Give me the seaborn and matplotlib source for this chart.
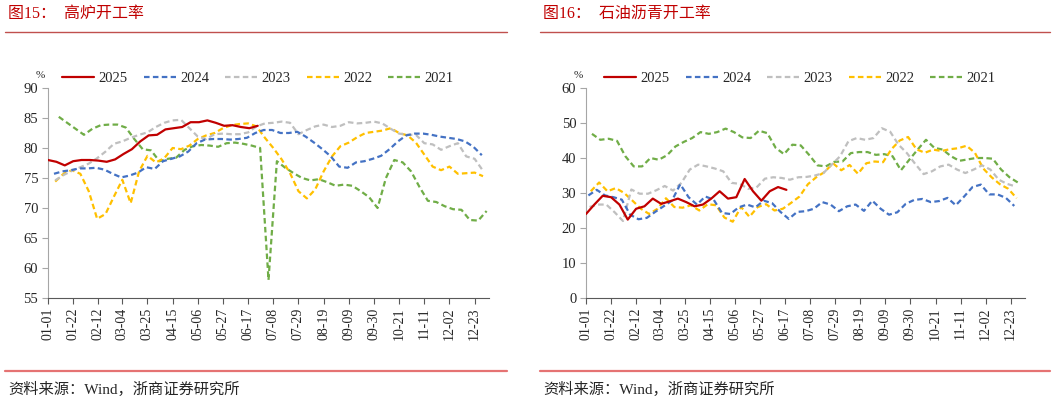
import pandas as pd
import seaborn as sns
import matplotlib.pyplot as plt
from matplotlib.lines import Line2D

years = ['2025', '2024', '2023', '2022', '2021']
colors = ['#C00000', '#4472C4', '#BFBFBF', '#FFC000', '#70AD47']
tick_labels = ['01-01', '01-22', '02-12', '03-04', '03-25', '04-15', '05-06', '05-27', '06-17',
               '07-08', '07-29', '08-19', '09-09', '09-30', '10-21', '11-11', '12-02', '12-23']

# 高炉开工率 (%), weekly, first week's day offset per year
bf_first_day = [0, 5, 6, 6, 9]
bf_2025 = [78.0, 77.7, 77.1, 77.8, 78.0, 78.0, 77.9, 77.7, 78.1, 79.0, 79.8, 81.1, 82.1, 82.2, 83.1,
           83.3, 83.5, 84.3, 84.3, 84.6, 84.2, 83.7, 83.8, 83.5, 83.3, 83.7]
bf_2024 = [75.7, 76.1, 76.3, 76.6, 76.6, 76.7, 76.4, 75.7, 75.1, 75.4, 75.9, 76.8, 76.5, 77.8, 78.2,
           78.6, 79.4, 80.8, 81.4, 81.5, 81.5, 81.4, 81.5, 81.7, 82.5, 83.0, 83.0, 82.5, 82.5, 82.7,
           81.9, 80.9, 79.8, 78.6, 76.9, 76.7, 77.6, 77.8, 78.2, 78.7, 79.8, 81.1, 82.1, 82.4, 82.4,
           82.2, 81.9, 81.7, 81.5, 81.1, 80.2, 78.8]
bf_2023 = [74.6, 75.5, 76.2, 76.8, 77.4, 78.3, 79.4, 80.7, 81.1, 81.7, 82.2, 82.6, 83.5, 84.2, 84.6,
           84.7, 83.3, 81.9, 81.5, 82.3, 82.4, 82.3, 82.3, 82.6, 83.6, 84.1, 84.2, 84.4, 84.2, 82.3,
           83.0, 83.6, 83.9, 83.5, 83.7, 84.3, 84.1, 84.2, 84.4, 84.1, 83.2, 82.4, 82.2, 82.2, 80.8,
           80.6, 79.7, 80.3, 80.8, 78.6, 78.2, 76.2]
bf_2022 = [74.4, 75.7, 76.3, 75.7, 72.8, 68.2, 69.0, 71.9, 74.7, 70.8, 76.1, 78.7, 77.6, 78.3, 80.0,
           79.8, 80.4, 81.5, 82.1, 82.5, 83.3, 83.8, 84.0, 84.1, 83.6, 81.7, 80.0, 78.1, 75.8, 72.8,
           71.6, 73.1, 76.1, 78.6, 80.3, 80.9, 81.8, 82.5, 82.7, 82.9, 83.3, 82.5, 82.1, 80.9, 78.9,
           76.9, 76.3, 76.9, 75.7, 75.8, 75.9, 75.3]
bf_2021 = [85.2, 84.2, 83.2, 82.2, 83.2, 83.8, 83.9, 83.9, 83.4, 81.5, 79.8, 79.6, 77.8, 78.2, 78.4,
           79.7, 80.3, 80.5, 80.4, 80.2, 80.8, 80.9, 80.7, 80.4, 80.0, 58.0, 77.8, 76.7, 75.8, 75.0,
           74.6, 74.8, 74.3, 73.7, 73.9, 73.7, 72.8, 71.8, 70.0, 75.0, 78.0, 77.6, 76.1, 73.5, 71.2,
           71.0, 70.3, 69.8, 69.7, 68.0, 67.9, 69.5]

# 石油沥青开工率 (%)
as_first_day = [0, 2, 3, 4, 5]
as_2025 = [24.0, 26.7, 29.2, 28.8, 26.7, 22.4, 25.5, 26.2, 28.4, 26.9, 27.6, 28.4, 27.4, 26.2, 26.7,
           28.4, 30.5, 28.4, 28.8, 34.0, 30.5, 27.8, 30.5, 31.7, 30.9]
as_2024 = [29.3, 30.9, 29.3, 28.8, 28.1, 23.8, 22.5, 22.9, 24.6, 26.2, 27.8, 32.5, 28.8, 26.7, 29.0,
           28.1, 24.3, 24.0, 25.9, 26.7, 25.9, 27.8, 27.1, 24.6, 22.6, 24.6, 24.8, 25.5, 27.4, 26.7,
           24.8, 26.2, 26.7, 24.9, 27.8, 25.5, 23.8, 24.5, 26.9, 28.0, 28.3, 27.4, 27.7, 28.6, 26.5,
           29.0, 31.7, 32.4, 29.6, 29.6, 28.6, 26.3]
as_2023 = [26.0, 26.7, 26.7, 24.5, 22.0, 31.0, 29.8, 29.8, 30.8, 32.0, 30.7, 32.9, 36.7, 38.1, 37.6,
           37.0, 36.2, 32.9, 32.6, 31.2, 31.6, 34.1, 34.5, 34.3, 33.8, 34.5, 34.6, 35.0, 35.7, 38.1,
           40.5, 44.8, 45.7, 45.2, 45.7, 48.5, 47.5, 43.8, 41.4, 38.3, 35.4, 36.2, 37.6, 38.1, 36.7,
           35.7, 36.7, 37.9, 36.7, 33.8, 32.6, 31.9]
as_2022 = [30.5, 33.0, 30.5, 31.4, 30.0, 27.8, 25.5, 24.0, 25.5, 28.5, 26.0, 25.8, 26.5, 25.0, 26.8,
           26.5, 23.0, 21.8, 26.0, 23.2, 26.0, 26.8, 25.0, 25.5, 27.2, 29.0, 32.5, 34.5, 36.0, 38.5,
           36.5, 38.0, 35.5, 38.5, 39.0, 38.8, 42.5, 45.0, 46.0, 42.5, 41.5, 42.4, 42.0, 42.5, 42.8,
           43.5, 41.5, 37.0, 34.5, 32.5, 31.2, 28.5]
as_2021 = [46.9, 45.2, 45.5, 44.9, 40.5, 37.6, 37.6, 40.0, 39.5, 40.8, 43.3, 44.6, 45.7, 47.4, 46.9,
           47.4, 48.4, 47.4, 45.9, 45.7, 47.8, 47.1, 42.9, 41.1, 43.8, 43.6, 40.9, 37.9, 37.6, 38.9,
           39.0, 41.4, 41.7, 41.7, 40.9, 41.1, 40.5, 36.5, 39.5, 42.4, 45.2, 42.9, 42.4, 40.5, 39.2,
           39.6, 40.0, 40.0, 39.8, 36.7, 34.5, 33.0]

W, H = 1057, 403
sns.set_style('ticks')
plt.rcParams['font.family'] = ['Liberation Serif', 'Noto Sans CJK SC', 'DejaVu Sans']

fig = plt.figure(figsize=(W / 100, H / 100), dpi=100)
fig.patch.set_facecolor('white')

tick_days = [pd.Timestamp('2025-' + t).dayofyear - 1 for t in tick_labels]
dash_map = {'2025': '', '2024': (2.5, 1.5), '2023': (2.5, 1.5), '2022': (2.5, 1.5), '2021': (2.5, 1.5)}


def draw_panel(ax, series, first_day, ylim, yticks, legend_x):
    rows = []
    for yr, vals, d0 in zip(years, series, first_day):
        for i, v in enumerate(vals):
            rows.append((d0 + 7 * i, v, yr))
    df = pd.DataFrame(rows, columns=['day', 'rate', 'year'])
    sns.lineplot(data=df, x='day', y='rate', hue='year', style='year', hue_order=years,
                 style_order=years, palette=colors, dashes=dash_map, estimator=None, sort=False,
                 linewidth=1.6, ax=ax)
    for i, ln in enumerate(ax.lines[:5]):
        ln.set_zorder(10 - i)
    ax.set_xlim(0, 368)
    ax.set_ylim(*ylim)
    ax.set_yticks(yticks)
    ax.set_xticks(tick_days)
    ax.set_xticklabels(tick_labels, rotation=90, fontsize=10)
    ax.tick_params(axis='y', labelsize=10.5, length=4, color='#A6A6A6', pad=3)
    ax.tick_params(axis='x', length=4, color='#595959', pad=3)
    ax.set_xlabel('')
    ax.set_ylabel('')
    for s in ['top', 'right']:
        ax.spines[s].set_visible(False)
    ax.spines['left'].set_color('#A6A6A6')
    ax.spines['bottom'].set_color('#595959')
    handles, labels = ax.get_legend_handles_labels()
    ax.legend(handles, labels, ncol=5, frameon=False, loc='center',
              bbox_to_anchor=(legend_x / W, 1 - 78 / H), bbox_transform=fig.transFigure,
              fontsize=10.5, handlelength=2.2, handletextpad=0.3, columnspacing=1.1)


ax1 = fig.add_axes([48 / W, 1 - 298 / H, 441 / W, 210 / H])
draw_panel(ax1, [bf_2025, bf_2024, bf_2023, bf_2022, bf_2021], bf_first_day,
           (55, 90), range(55, 91, 5), 258)

ax2 = fig.add_axes([586 / W, 1 - 298 / H, 439 / W, 210 / H])
draw_panel(ax2, [as_2025, as_2024, as_2023, as_2022, as_2021], as_first_day,
           (0, 60), range(0, 61, 10), 800)

fig.text(40 / W, 1 - 75 / H, '%', ha='center', va='center', fontsize=8)
fig.text(578 / W, 1 - 75 / H, '%', ha='center', va='center', fontsize=8)

# headers and footers
for x0, x1, title in [(5, 507, '图15：  高炉开工率'), (540, 1050, '图16：  石油沥青开工率')]:
    fig.text((x0 + 3) / W, 1 - 14 / H, title, color='#C00000', fontsize=11.5, va='center')
    fig.add_artist(Line2D([x0 / W, x1 / W], [1 - 31.5 / H] * 2, color='#C0504D', lw=1.0))
    fig.add_artist(Line2D([x0 / W, x1 / W], [1 - 371 / H] * 2, color='#E57373', lw=1.6))
    fig.text((x0 + 3) / W, 1 - 389 / H, '资料来源：Wind，浙商证券研究所', fontsize=11, va='center')

fig.savefig('out.png', dpi=100)
